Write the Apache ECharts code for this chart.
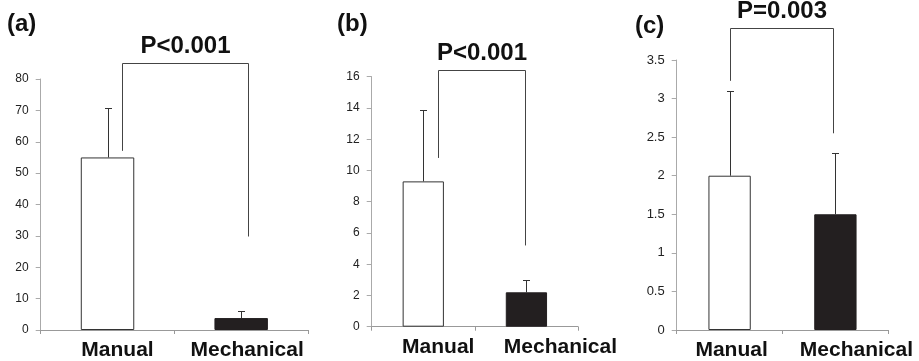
<!DOCTYPE html>
<html><head><meta charset="utf-8">
<script src="https://cdn.jsdelivr.net/npm/echarts@6/dist/echarts.min.js"></script>
<style>html,body{margin:0;padding:0;background:#fff}#c{width:919px;height:361px}</style>
</head><body><div id="c"></div>
<script>
// ---- data ----
const categories = ['Manual', 'Mechanical'];
const panelLabels = ['(a)', '(b)', '(c)'];
const pLabels = ['P<0.001', 'P<0.001', 'P=0.003'];
const meansA = [55, 3.8];
const upperA = [70.6, 6.0];
const meansB = [9.3, 2.2];
const upperB = [13.9, 3.0];
const meansC = [2.0, 1.5];
const upperC = [3.1, 2.3];
// significance bracket heights in axis units: [top, left leg end, right leg end]
const bracketA = [85.1, 57.1, 29.8];
const bracketB = [16.4, 10.8, 5.2];
const bracketC = [3.91, 3.23, 2.55];
const yMax = [80, 16, 3.5];
const yInterval = [10, 2, 0.5];

// ---- layout / styles ----
const FONT = 'Liberation Sans, Arial, Helvetica, sans-serif';
const grids = [
  {left: 40.7, top: 79, width: 267.3, height: 252.7},
  {left: 371.7, top: 76.7, width: 206.3, height: 250},
  {left: 676.7, top: 60, width: 211.6, height: 271}
];
const labelShift = [[10, 6], [15, 34], [2, 21]];
const tickFont = [12, 12, 13];
const bracketDx = [[0.11, 0.05], [0.14, -0.015], [0.004, -0.025]];
const titlePos = [{left: 7, top: 12}, {left: 337, top: 12}, {left: 635, top: 14}];

const means = [meansA, meansB, meansC];
const uppers = [upperA, upperB, upperC];
const brackets = [bracketA, bracketB, bracketC];

const chart = echarts.init(document.getElementById('c'), null, {renderer: 'canvas'});

const option = {
  animation: false,
  backgroundColor: '#fff',
  title: panelLabels.map((t, i) => ({
    text: t, left: titlePos[i].left, top: titlePos[i].top, padding: 0,
    textStyle: {fontFamily: FONT, fontWeight: 'bold', fontSize: 24, color: '#111'}
  })),
  grid: grids.map(g => Object.assign({containLabel: false}, g)),
  xAxis: grids.map((g, i) => ({
    type: 'category', gridIndex: i,
    data: categories.map((c, k) => ({
      value: c,
      textStyle: {padding: [0, labelShift[i][k] > 0 ? 0 : -2 * labelShift[i][k], 0, labelShift[i][k] > 0 ? 2 * labelShift[i][k] : 0]}
    })),
    axisLine: {lineStyle: {color: '#999', width: 1}},
    axisTick: {show: true, length: 4, lineStyle: {color: '#999'}},
    axisLabel: {fontFamily: FONT, fontWeight: 'bold', fontSize: 21, color: '#111', margin: 10, interval: 0}
  })),
  yAxis: grids.map((g, i) => ({
    type: 'value', gridIndex: i, min: 0, max: yMax[i], interval: yInterval[i],
    axisLine: {show: true, lineStyle: {color: '#aaa', width: 1}},
    axisTick: {show: true, length: 5, lineStyle: {color: '#aaa'}},
    splitLine: {show: false},
    axisLabel: {fontFamily: FONT, fontSize: tickFont[i], color: '#222', margin: 12}
  })),
  series: []
};

for (let i = 0; i < 3; i++) {
  option.series.push({
    type: 'bar', xAxisIndex: i, yAxisIndex: i, barWidth: '40%',
    data: means[i].map((v, k) => ({
      value: v,
      itemStyle: k === 0
        ? {color: '#fff', borderColor: '#333', borderWidth: 1}
        : {color: '#231f20', borderColor: '#231f20', borderWidth: 1}
    })),
    z: 2
  });
  option.series.push({
    type: 'custom', xAxisIndex: i, yAxisIndex: i, z: 3,
    data: categories.map((c, k) => [k, means[i][k], uppers[i][k]]),
    renderItem: function (params, api) {
      const x = api.value(0), m = api.value(1), u = api.value(2);
      const p0 = api.coord([x, m]);
      const p1 = api.coord([x, u]);
      const cx = Math.round(p0[0]) + 0.5;
      const ty = Math.round(p1[1]) + 0.5;
      return {
        type: 'group', children: [
          {type: 'line', shape: {x1: cx, y1: p0[1], x2: cx, y2: ty}, style: {stroke: '#333', lineWidth: 1}},
          {type: 'line', shape: {x1: cx - 3.5, y1: ty, x2: cx + 3.5, y2: ty}, style: {stroke: '#333', lineWidth: 1}}
        ]
      };
    }
  });
  option.series.push({
    type: 'custom', xAxisIndex: i, yAxisIndex: i, z: 4, clip: false,
    data: [[0, brackets[i][0], brackets[i][1], brackets[i][2]]],
    renderItem: (function (idx) {
      return function (params, api) {
        const bw = api.size([1, 0])[0];
        const top = api.value(1), lEnd = api.value(2), rEnd = api.value(3);
        const xl = Math.round(api.coord([0, top])[0] + bracketDx[idx][0] * bw) + 0.5;
        const xr = Math.round(api.coord([1, top])[0] + bracketDx[idx][1] * bw) + 0.5;
        const yt = Math.round(api.coord([0, top])[1]) + 0.5;
        const yl = api.coord([0, lEnd])[1];
        const yr = api.coord([1, rEnd])[1];
        return {
          type: 'group', children: [
            {type: 'polyline', shape: {points: [[xl, yl], [xl, yt], [xr, yt], [xr, yr]]},
             style: {stroke: '#444', lineWidth: 1, fill: null}},
            {type: 'text', x: (xl + xr) / 2, y: yt - 5,
             style: {text: pLabels[idx], fontFamily: FONT, fontWeight: 'bold', fontSize: 24,
                     fill: '#111', align: 'center', verticalAlign: 'bottom'}}
          ]
        };
      };
    })(i)
  });
}

chart.setOption(option);
</script>
</body></html>
